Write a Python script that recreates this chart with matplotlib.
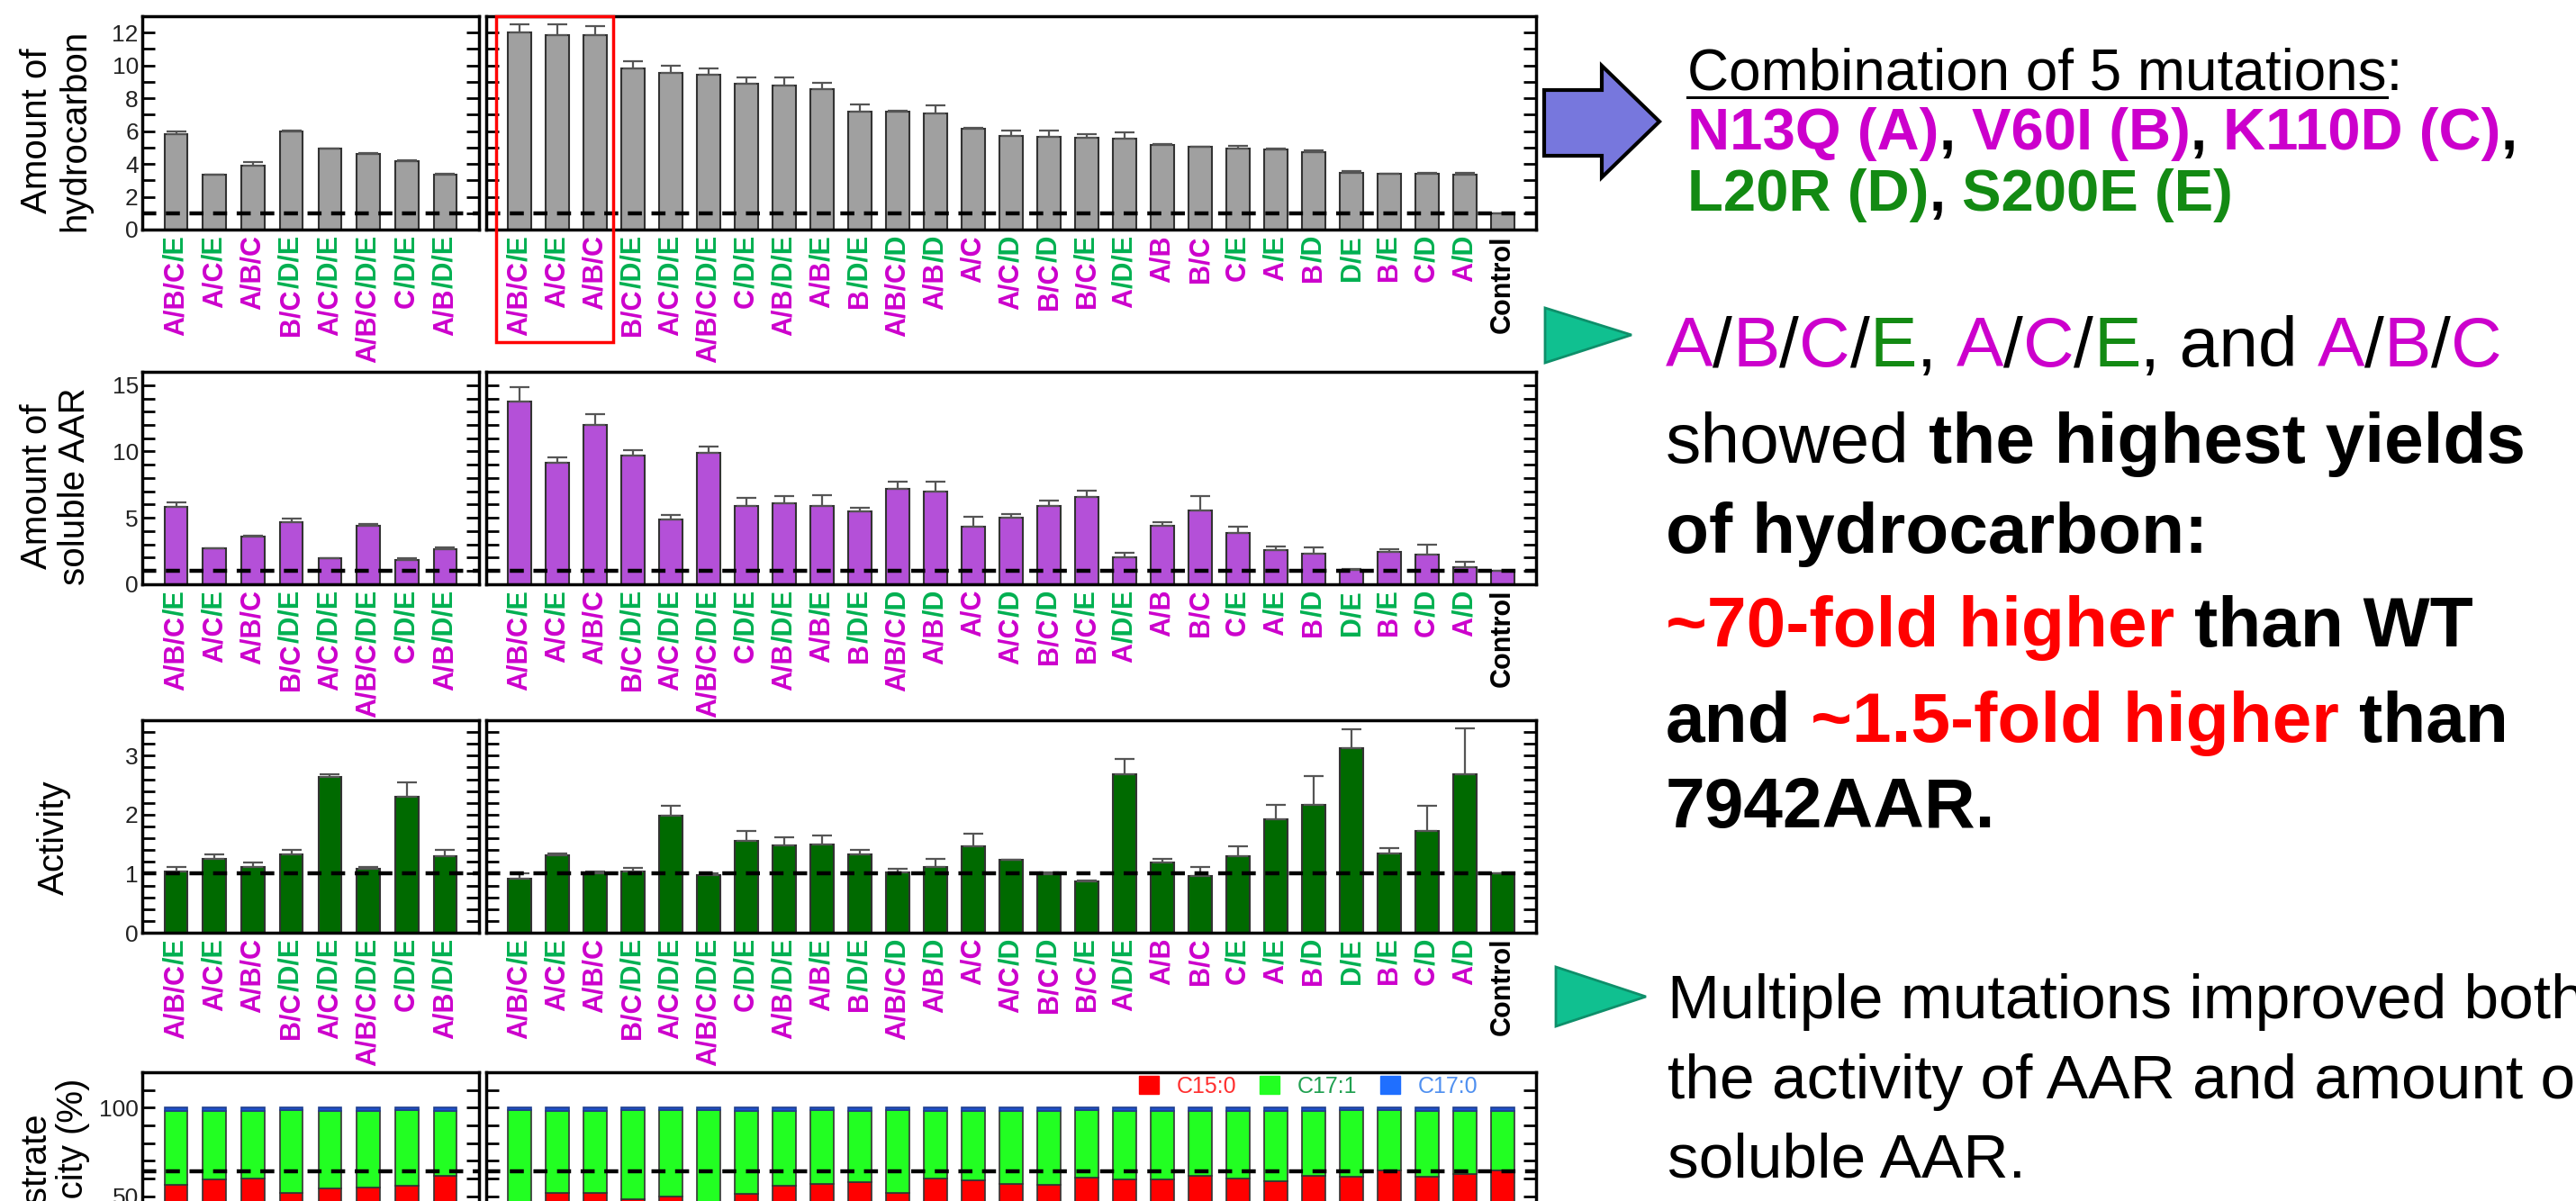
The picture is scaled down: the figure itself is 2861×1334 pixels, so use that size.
import numpy as np
import matplotlib
matplotlib.use('Agg')
import matplotlib.pyplot as plt
from matplotlib.patches import Rectangle, Polygon, Patch
from matplotlib.transforms import offset_copy, blended_transform_factory
from matplotlib.ticker import MultipleLocator
from matplotlib.lines import Line2D

plt.rcParams['font.family'] = ['Liberation Sans', 'DejaVu Sans']

# ---- data -------------------------------------------------------------
left_labels = ['A/B/C/E', 'A/C/E', 'A/B/C', 'B/C/D/E', 'A/C/D/E', 'A/B/C/D/E', 'C/D/E', 'A/B/D/E']
right_labels = ['A/B/C/E', 'A/C/E', 'A/B/C', 'B/C/D/E', 'A/C/D/E', 'A/B/C/D/E', 'C/D/E',
                'A/B/D/E', 'A/B/E', 'B/D/E', 'A/B/C/D', 'A/B/D', 'A/C', 'A/C/D', 'B/C/D',
                'B/C/E', 'A/D/E', 'A/B', 'B/C', 'C/E', 'A/E', 'B/D', 'D/E', 'B/E', 'C/D',
                'A/D', 'Control']

# amount of hydrocarbon
hc_left = [5.84, 3.34, 3.89, 5.99, 4.93, 4.62, 4.16, 3.34]
hc_left_err = [0.13, 0.03, 0.25, 0.03, 0.03, 0.03, 0.05, 0.05]
hc_right = [12.0, 11.87, 11.84, 9.83, 9.55, 9.41, 8.89, 8.80, 8.57, 7.20, 7.20, 7.05, 6.17,
            5.70, 5.66, 5.57, 5.52, 5.17, 5.02, 4.91, 4.89, 4.69, 3.47, 3.38, 3.38, 3.34, 1.0]
hc_right_err = [0.51, 0.64, 0.58, 0.40, 0.44, 0.42, 0.37, 0.46, 0.36, 0.45, 0.05, 0.53, 0.05,
                0.36, 0.35, 0.27, 0.38, 0.05, 0.05, 0.17, 0.03, 0.11, 0.08, 0.03, 0.09, 0.11, 0.0]

# amount of soluble AAR
sol_left = [5.83, 2.69, 3.60, 4.67, 1.94, 4.39, 1.82, 2.64]
sol_left_err = [0.36, 0.03, 0.03, 0.25, 0.03, 0.12, 0.14, 0.14]
sol_right = [13.73, 9.18, 12.02, 9.68, 4.87, 9.90, 5.87, 6.08, 5.92, 5.49, 7.17, 7.01, 4.35,
             5.02, 5.87, 6.56, 2.00, 4.39, 5.53, 3.89, 2.57, 2.30, 1.09, 2.46, 2.23, 1.32, 1.0]
sol_right_err = [1.09, 0.38, 0.80, 0.45, 0.32, 0.48, 0.62, 0.55, 0.80, 0.25, 0.53, 0.75, 0.73,
                 0.29, 0.46, 0.50, 0.39, 0.28, 1.10, 0.46, 0.30, 0.46, 0.07, 0.18, 0.75, 0.39, 0.0]

# activity
act_left = [1.03, 1.25, 1.11, 1.32, 2.64, 1.09, 2.30, 1.29]
act_left_err = [0.08, 0.07, 0.08, 0.09, 0.05, 0.02, 0.24, 0.11]
act_right = [0.92, 1.31, 1.01, 1.03, 1.99, 0.98, 1.56, 1.48, 1.49, 1.32, 1.02, 1.12, 1.47,
             1.23, 0.99, 0.87, 2.69, 1.19, 0.96, 1.30, 1.92, 2.16, 3.13, 1.34, 1.73, 2.68, 1.0]
act_right_err = [0.09, 0.03, 0.02, 0.07, 0.16, 0.02, 0.17, 0.14, 0.15, 0.08, 0.07, 0.13, 0.21,
                 0.01, 0.03, 0.01, 0.26, 0.06, 0.15, 0.17, 0.24, 0.50, 0.31, 0.10, 0.42, 0.79, 0.0]

# substrate specificity (%)
c150_left = [56.2, 59.6, 60.1, 52.0, 54.2, 54.7, 55.9, 61.4]
c170_left = [1.7, 1.8, 1.7, 1.6, 1.7, 1.7, 1.6, 1.8]
c150_right = [46.0, 51.7, 51.7, 48.5, 50.0, 47.0, 51.4, 55.9, 56.7, 57.9, 51.7, 59.8, 58.8,
              56.7, 56.2, 60.6, 59.6, 59.3, 61.3, 60.1, 58.4, 61.4, 60.9, 64.6, 60.9, 62.3, 64.6]
c170_right = [1.6, 1.7, 1.7, 1.6, 1.6, 1.5, 1.7, 1.7, 1.6, 1.7, 1.6, 1.7, 1.7,
              1.7, 1.7, 1.6, 1.7, 1.7, 1.7, 1.7, 1.7, 1.7, 1.6, 1.2, 1.7, 1.7, 1.7]
c171_left = [100 - a - b for a, b in zip(c150_left, c170_left)]
c171_right = [100 - a - b for a, b in zip(c150_right, c170_right)]

# ---- figure -----------------------------------------------------------
W, H = 2861, 1334
fig = plt.figure(figsize=(W / 100, H / 100), dpi=100)
renderer = fig.canvas.get_renderer()

MAG = '#CC00CC'
GRN = '#00B050'
TGRN = '#138A13'


def fx(x):
    return x / W


def fy(y):
    return 1 - y / H


rows = [(18, 255), (413, 649), (800, 1036), (1191, 1427)]
LX = (158, 532)
RX = (540, 1706)


def make_axes(x0x1, top_bot):
    x0, x1 = x0x1
    t, b = top_bot
    return fig.add_axes([fx(x0), fy(b), (x1 - x0) / W, (b - t) / H])


def style(ax, ylim, major, minor, show_labels):
    ax.set_ylim(*ylim)
    ax.yaxis.set_major_locator(MultipleLocator(major))
    ax.yaxis.set_minor_locator(MultipleLocator(minor))
    ax.tick_params(axis='y', which='both', direction='in', left=True, right=True,
                   length=10, width=2, labelsize=19, pad=3, labelcolor='#222222')
    ax.set_xticks([])
    for s in ax.spines.values():
        s.set_linewidth(2.5)
    if not show_labels:
        ax.tick_params(axis='y', labelleft=False)


def label_segments(lab):
    if lab == 'Control':
        return [('Control', 'black')]
    segs = []
    for i, tok in enumerate(lab.split('/')):
        c = MAG if tok in 'ABC' else GRN
        s = ('/' if i else '') + tok
        if segs and segs[-1][1] == c:
            segs[-1] = (segs[-1][0] + s, c)
        else:
            segs.append((s, c))
    return segs


def draw_xlabels(ax, labels):
    base = ax.get_xaxis_transform()
    for i, lab in enumerate(labels):
        off = 6
        for s, c in reversed(label_segments(lab)):
            tr = offset_copy(base, fig=fig, x=0, y=-off, units='dots')
            t = ax.text(i, 0, s, transform=tr, rotation=90, ha='center', va='top',
                        color=c, fontsize=22, fontweight='bold', clip_on=False)
            off += t.get_window_extent(renderer).height


def bars(ax, vals, err, color):
    x = np.arange(len(vals))
    ax.bar(x, vals, width=0.6, color=color, edgecolor='#333333', linewidth=1.5,
           yerr=[np.zeros(len(err)), err],
           error_kw=dict(ecolor='#555555', elinewidth=1.6, capsize=8, capthick=1.6),
           zorder=2)


def dash(ax, y):
    ax.axhline(y, color='black', lw=3.2, ls=(0, (3.5, 2.4)), zorder=4)


panels = [
    (hc_left, hc_left_err, hc_right, hc_right_err, '#A0A0A0', (0, 13), 2, 1),
    (sol_left, sol_left_err, sol_right, sol_right_err, '#B450D8', (0, 16), 5, 1),
    (act_left, act_left_err, act_right, act_right_err, '#006A00', (0, 3.6), 1, 0.2),
]
axes_rows = []
for r, (lv, le, rv, re_, col, ylim, mj, mn) in enumerate(panels):
    axL = make_axes(LX, rows[r])
    axR = make_axes(RX, rows[r])
    for ax, v, e, labs, show in ((axL, lv, le, left_labels, True),
                                 (axR, rv, re_, right_labels, False)):
        bars(ax, v, e, col)
        style(ax, ylim, mj, mn, show)
        ax.set_xlim(-0.88, len(v) - 0.12)
        dash(ax, 1)
        draw_xlabels(ax, labs)
    axes_rows.append((axL, axR))

# substrate specificity
axL4 = make_axes(LX, rows[3])
axR4 = make_axes(RX, rows[3])
for ax, red, grn, blu, show in ((axL4, c150_left, c171_left, c170_left, True),
                                (axR4, c150_right, c171_right, c170_right, False)):
    x = np.arange(len(red))
    red = np.array(red)
    grn = np.array(grn)
    blu = np.array(blu)
    ax.bar(x, red, width=0.6, color='#FF0000', edgecolor='#333333', linewidth=1.2, zorder=2)
    ax.bar(x, grn, bottom=red, width=0.6, color='#22FF22', edgecolor='#333333', linewidth=1.2, zorder=2)
    ax.bar(x, blu, bottom=red + grn, width=0.6, color='#1F4FC8', edgecolor='#1F3F8F', linewidth=1.2, zorder=2)
    style(ax, (0, 120), 50, 10, show)
    ax.set_xlim(-0.88, len(red) - 0.12)
    dash(ax, 64)

leg_cols = ['#FF0000', '#22FF22', '#1F6FFF']
leg_txt = ['#FF3030', '#20A050', '#5090F0']
handles = [Patch(facecolor=c, edgecolor=c) for c in leg_cols]
leg = axR4.legend(handles, ['C15:0', 'C17:1', 'C17:0'], ncol=3, loc='upper right',
                  bbox_to_anchor=(0.945, 0.985), frameon=False, fontsize=18,
                  handlelength=0.9, handleheight=0.9, handletextpad=0.8,
                  columnspacing=1.0, borderaxespad=0, borderpad=0)
for t, c in zip(leg.get_texts(), leg_txt):
    t.set_color(c)

# red highlight box
axR1 = axes_rows[0][1]
tr = blended_transform_factory(axR1.transData, axR1.transAxes)
axR1.add_patch(Rectangle((-0.62, -0.527), 3.1, 1.527, transform=tr, fill=False,
                         edgecolor='#FF0000', lw=2.5, clip_on=False, zorder=5))

# y-axis titles
ylabs = [('Amount of\nhydrocarbon', 62, 145), ('Amount of\nsoluble AAR', 62, 540),
         ('Activity', 60, 930), ('Substrate\nspecificity (%)', 60, 1322)]
for txt, x, y in ylabs:
    fig.text(fx(x), fy(y), txt, rotation=90, ha='center', va='center', fontsize=29,
             multialignment='center', linespacing=1.15)

# ---- right side annotations -------------------------------------------


def text_w(s, size, weight):
    t = fig.text(0, 0, s, fontsize=size, fontweight=weight)
    w = t.get_window_extent(renderer).width
    t.remove()
    return w


def space_w(size, weight):
    return text_w('x x', size, weight) - text_w('xx', size, weight)


def draw_line(x, y, segs, size):
    cx = x
    for s, c, w in segs:
        lead = len(s) - len(s.lstrip(' '))
        trail = len(s) - len(s.rstrip(' '))
        core = s.strip(' ')
        cx += lead * space_w(size, w)
        if core:
            t = fig.text(fx(cx), fy(y), core, fontsize=size, color=c, fontweight=w,
                         ha='left', va='baseline')
            cx = t.get_window_extent(renderer).x1
        cx += trail * space_w(size, w)
    return cx


def poly(pts, fc, ec, lw):
    fig.patches.append(Polygon([(fx(a), fy(b)) for a, b in pts], closed=True,
                               transform=fig.transFigure, facecolor=fc, edgecolor=ec,
                               lw=lw, joinstyle='miter'))


# blue block arrow
poly([(1715, 100), (1779, 100), (1779, 73), (1843, 135), (1779, 197), (1779, 173), (1715, 173)],
     '#7777DD', 'black', 3)
# green triangles
poly([(1716, 342), (1812, 372), (1716, 403)], '#10C090', '#0E8F6A', 2)
poly([(1728, 1074), (1828, 1107), (1728, 1140)], '#10C090', '#0E8F6A', 2)

k = 'black'
B = 'bold'
N = 'normal'
x0 = 1874
draw_line(x0, 100, [('Combination of 5 mutations:', k, N)], 46)
uw = text_w('Combination of 5 mutations', 46, N)
fig.lines.append(Line2D([fx(x0), fx(x0 + uw)], [fy(108), fy(108)], transform=fig.transFigure,
                        color='black', lw=2.2))
draw_line(x0, 166, [('N13Q (A)', MAG, B), (', ', k, B), ('V60I (B)', MAG, B), (', ', k, B),
                    ('K110D (C)', MAG, B), (',', k, B)], 47)
draw_line(x0, 234, [('L20R (D)', TGRN, B), (', ', k, B), ('S200E (E)', TGRN, B)], 47)

x1 = 1850
fs = 56.5
draw_line(x1, 407, [('A', MAG, N), ('/', k, N), ('B', MAG, N), ('/', k, N), ('C', MAG, N),
                    ('/', k, N), ('E', TGRN, N), (', ', k, N), ('A', MAG, N), ('/', k, N),
                    ('C', MAG, N), ('/', k, N), ('E', TGRN, N), (', and ', k, N),
                    ('A', MAG, N), ('/', k, N), ('B', MAG, N), ('/', k, N), ('C', MAG, N)], fs)
draw_line(x1, 514, [('showed ', k, N), ('the highest yields', k, B)], fs)
draw_line(x1, 614, [('of hydrocarbon:', k, B)], fs)
draw_line(x1, 718, [('~70-fold higher', '#FF0000', B), (' than WT', k, B)], fs)
draw_line(x1, 824, [('and ', k, B), ('~1.5-fold higher', '#FF0000', B), (' than', k, B)], fs)
draw_line(x1, 919, [('7942AAR.', k, B)], fs)

draw_line(1852, 1131, [('Multiple mutations improved both', k, N)], 50)
draw_line(1852, 1220, [('the activity of AAR and amount of', k, N)], 50)
draw_line(1852, 1307, [('soluble AAR.', k, N)], 50)

fig.savefig('out.png', dpi=100)
